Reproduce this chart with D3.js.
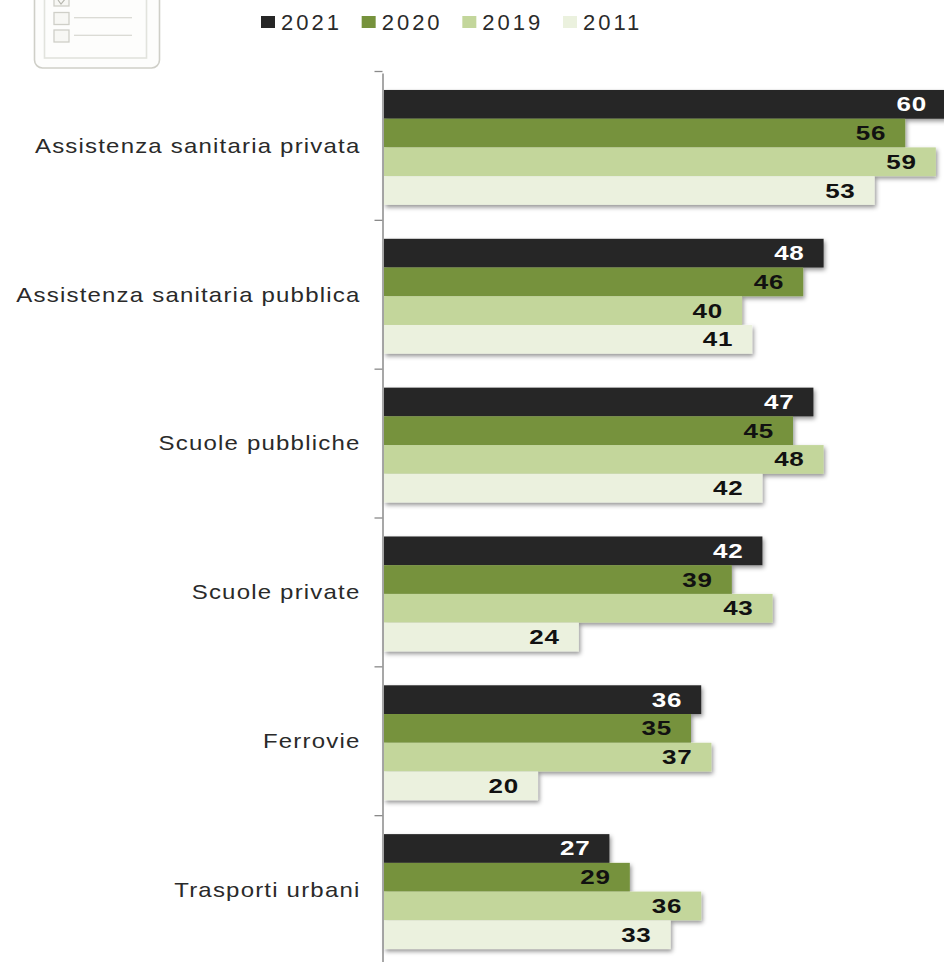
<!DOCTYPE html>
<html lang="it">
<head>
<meta charset="utf-8">
<script src="https://cdn.jsdelivr.net/npm/d3@7"></script>
<style>
  html, body { margin: 0; padding: 0; background: #fff; }
  svg { display: block; }
  text { font-family: "Liberation Sans", Arial, sans-serif; }
</style>
</head>
<body>
<svg id="chart" width="944" height="962"></svg>
<script>
const categories = ["Assistenza sanitaria privata", "Assistenza sanitaria pubblica", "Scuole pubbliche", "Scuole private", "Ferrovie", "Trasporti urbani"];
const years = ["2021", "2020", "2019", "2011"];
const values2021 = [60, 48, 47, 42, 36, 27];
const values2020 = [56, 46, 45, 39, 35, 29];
const values2019 = [59, 40, 48, 43, 37, 36];
const values2011 = [53, 41, 42, 24, 20, 33];
const seriesValues = [values2021, values2020, values2019, values2011];
const fills = ["#262626", "#76923c", "#c3d69b", "#ebf1de"];
const labelFills = ["#ffffff", "#111111", "#111111", "#111111"];

const svg = d3.select("#chart");

// Soft shadow cast below and to the right of each group of bars
const defs = svg.append("defs");
const shadow = defs.append("filter").attr("id", "barShadow")
  .attr("x", "-5%").attr("y", "-20%").attr("width", "110%").attr("height", "150%");
shadow.append("feDropShadow").attr("dx", 1.5).attr("dy", 2.5).attr("stdDeviation", 2)
  .attr("flood-color", "#000").attr("flood-opacity", 0.42);

// The value axis does not start at zero
const x = d3.scaleLinear().domain([4.9, 60]).range([384, 946]);
const y = d3.scaleBand().domain(categories).range([73, 966]).paddingInner(0.228).paddingOuter(0.114);
const inner = d3.scaleBand().domain(years).range([0, y.bandwidth()]);

// Checklist icon, cropped by the top edge
const icon = svg.append("g").attr("fill", "none").attr("stroke", "#cfcfc8");
icon.append("rect").attr("x", 34.5).attr("y", -30).attr("width", 125).attr("height", 98)
  .attr("rx", 8).attr("stroke-width", 1.6).attr("fill", "#fdfdfc");
icon.append("rect").attr("x", 44.5).attr("y", -30).attr("width", 102).attr("height", 88)
  .attr("stroke", "#e2e3dd").attr("stroke-width", 1.6);
[-6, 12.5, 30].forEach(top => {
  icon.append("rect").attr("x", 54).attr("y", top).attr("width", 15).attr("height", 12)
    .attr("stroke-width", 1.3).attr("fill", "#f7f7f4");
  icon.append("line").attr("x1", 74).attr("x2", 132).attr("y1", top + 5.2).attr("y2", top + 5.2)
    .attr("stroke-width", 1.1);
});
icon.append("path").attr("d", "M58 0 L61 4 L66 -2").attr("stroke", "#b5b5ad").attr("stroke-width", 1.1);

// Legend row
const legendX = d3.scalePoint().domain(years).range([261, 563]);
const legend = svg.append("g").selectAll("g").data(years).join("g")
  .attr("transform", d => `translate(${legendX(d)},0)`);
legend.append("rect").attr("y", 16).attr("width", 14).attr("height", 12)
  .attr("fill", (d, i) => fills[i]);
legend.append("text").attr("x", 20).attr("y", 30)
  .attr("font-size", 22).attr("letter-spacing", 3).attr("fill", "#2a2a2a")
  .text(d => d);

// Bars, with a shared shadow for each category
const groups = svg.append("g").selectAll("g").data(categories).join("g")
  .attr("transform", d => `translate(0,${y(d)})`)
  .attr("filter", "url(#barShadow)");
groups.selectAll("rect").data((d, c) => years.map((yr, s) => ({ yr, s, v: seriesValues[s][c] })))
  .join("rect")
  .attr("x", x(x.domain()[0]))
  .attr("y", d => inner(d.yr))
  .attr("width", d => x(d.v) - x(x.domain()[0]))
  .attr("height", inner.bandwidth())
  .attr("fill", d => fills[d.s]);

// Value labels inside the bar ends, widened horizontally
const labels = svg.append("g").selectAll("g").data(categories).join("g")
  .attr("transform", d => `translate(0,${y(d)})`);
labels.selectAll("text").data((d, c) => years.map((yr, s) => ({ yr, s, v: seriesValues[s][c] })))
  .join("text")
  .attr("transform", d => `translate(${x(d.v) - 19},${inner(d.yr) + inner.bandwidth() / 2 + 7}) scale(1.3,1)`)
  .attr("text-anchor", "end")
  .attr("font-size", 20).attr("font-weight", "bold").attr("letter-spacing", 0.6)
  .attr("fill", d => labelFills[d.s])
  .text(d => d.v);

// Category axis with ticks on the band boundaries
const axis = svg.append("g").attr("transform", "translate(382.5,0)")
  .call(d3.axisLeft(y).tickSize(0).tickPadding(0));
axis.select(".domain").attr("stroke", "#8a8a8a").attr("stroke-width", 1.5);
axis.selectAll("text")
  .attr("font-size", 20)
  .attr("letter-spacing", 1)
  .attr("fill", "#2a2a2a")
  .attr("font-family", '"Liberation Sans", Arial, sans-serif')
  .attr("dy", "0.32em")
  .attr("transform", "translate(-22,-1) scale(1.2,1)");
axis.selectAll(".boundary").data(d3.range(categories.length + 1)).join("line")
  .attr("class", "boundary")
  .attr("x1", -8).attr("x2", 0)
  .attr("y1", i => 71.5 + i * y.step()).attr("y2", i => 71.5 + i * y.step())
  .attr("stroke", "#8a8a8a").attr("stroke-width", 1.3);
</script>
</body>
</html>
